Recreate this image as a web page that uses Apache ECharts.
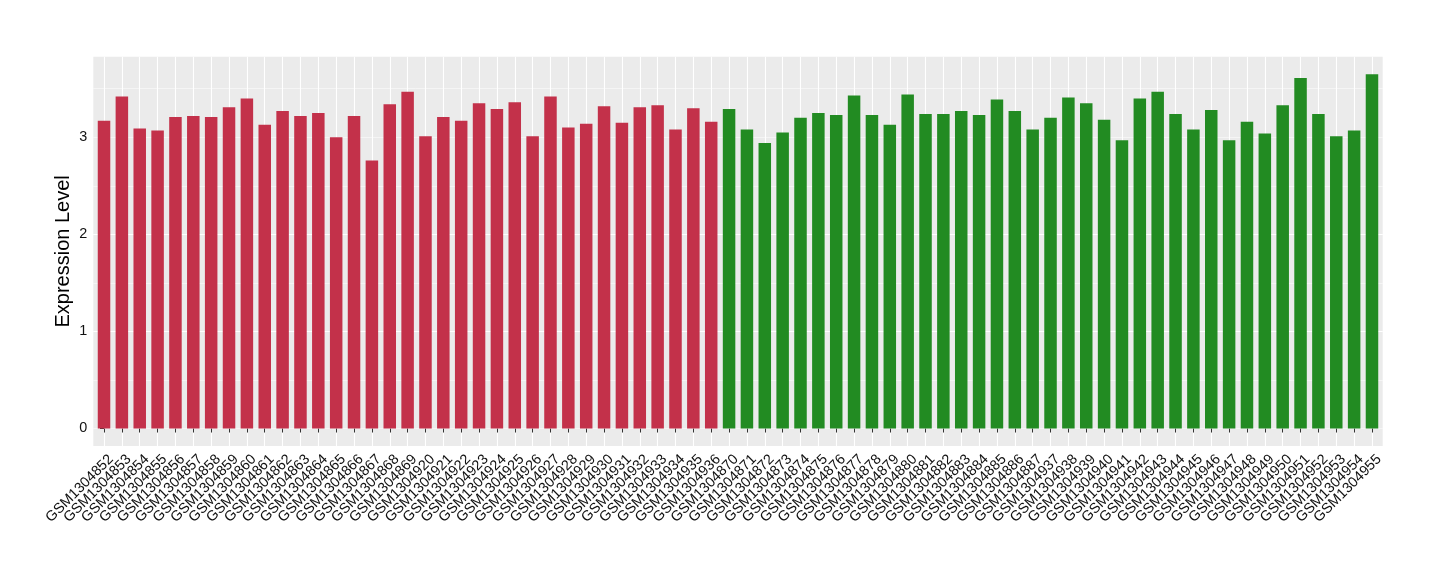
<!DOCTYPE html>
<html>
<head>
<meta charset="utf-8">
<script src="https://cdn.jsdelivr.net/npm/echarts@6/dist/echarts.min.js"></script>
<style>
html,body{margin:0;padding:0;background:#ffffff;}
#chart{width:1440px;height:580px;}
</style>
</head>
<body>
<div id="chart"></div>
<script>
// ---- data ----
const categoriesA = [
  'GSM1304852','GSM1304853','GSM1304854','GSM1304855','GSM1304856','GSM1304857',
  'GSM1304858','GSM1304859','GSM1304860','GSM1304861','GSM1304862','GSM1304863',
  'GSM1304864','GSM1304865','GSM1304866','GSM1304867','GSM1304868','GSM1304869',
  'GSM1304920','GSM1304921','GSM1304922','GSM1304923','GSM1304924','GSM1304925',
  'GSM1304926','GSM1304927','GSM1304928','GSM1304929','GSM1304930','GSM1304931',
  'GSM1304932','GSM1304933','GSM1304934','GSM1304935','GSM1304936'
];
const valuesA = [
  3.17, 3.42, 3.09, 3.07, 3.21, 3.22,
  3.21, 3.31, 3.40, 3.13, 3.27, 3.22,
  3.25, 3.00, 3.22, 2.76, 3.34, 3.47,
  3.01, 3.21, 3.17, 3.35, 3.29, 3.36,
  3.01, 3.42, 3.10, 3.14, 3.32, 3.15,
  3.31, 3.33, 3.08, 3.30, 3.16
];
const categoriesB = [
  'GSM1304870','GSM1304871','GSM1304872','GSM1304873','GSM1304874','GSM1304875',
  'GSM1304876','GSM1304877','GSM1304878','GSM1304879','GSM1304880','GSM1304881',
  'GSM1304882','GSM1304883','GSM1304884','GSM1304885','GSM1304886','GSM1304887',
  'GSM1304937','GSM1304938','GSM1304939','GSM1304940','GSM1304941','GSM1304942',
  'GSM1304943','GSM1304944','GSM1304945','GSM1304946','GSM1304947','GSM1304948',
  'GSM1304949','GSM1304950','GSM1304951','GSM1304952','GSM1304953','GSM1304954',
  'GSM1304955'
];
const valuesB = [
  3.29, 3.08, 2.94, 3.05, 3.20, 3.25,
  3.23, 3.43, 3.23, 3.13, 3.44, 3.24,
  3.24, 3.27, 3.23, 3.39, 3.27, 3.08,
  3.20, 3.41, 3.35, 3.18, 2.97, 3.40,
  3.47, 3.24, 3.08, 3.28, 2.97, 3.16,
  3.04, 3.33, 3.61, 3.24, 3.01, 3.07,
  3.65
];
const yTickLabels = [0, 1, 2, 3];
const yTitle = 'Expression Level';

// ---- styling / layout ----
const colorA = '#C3314A';
const colorB = '#228B22';
const FONT = '"Liberation Sans", Arial, Helvetica, sans-serif';
const yMin = -0.18, yMax = 3.83;

const categories = categoriesA.concat(categoriesB);
const n = categories.length;
const barData = valuesA.map(v => ({ value: v, itemStyle: { color: colorA } }))
  .concat(valuesB.map(v => ({ value: v, itemStyle: { color: colorB } })));

const panel = { left: 93.3, right: 1382.7, top: 56.7, bottom: 446 };
const pw = panel.right - panel.left;
const ph = panel.bottom - panel.top;
const unit = pw / (n + 0.2);

const chart = echarts.init(document.getElementById('chart'), null, { renderer: 'canvas' });
chart.setOption({
  animation: false,
  backgroundColor: '#ffffff',
  textStyle: { fontFamily: FONT },
  grid: [
    { left: panel.left, top: panel.top, width: pw, height: ph, show: true,
      backgroundColor: '#EBEBEB', borderWidth: 0 },
    { left: panel.left + 0.1 * unit, top: panel.top, width: n * unit, height: ph, show: false }
  ],
  xAxis: [
    { type: 'value', gridIndex: 0, min: -0.6, max: n - 1 + 0.6, splitNumber: n,
      axisLine: { show: false }, axisTick: { show: false }, axisLabel: { show: false },
      splitLine: { show: true, showMinLine: false, showMaxLine: false,
        lineStyle: { color: '#ffffff', width: 1.1 } } },
    { type: 'category', gridIndex: 1, data: categories, boundaryGap: true,
      axisLine: { show: false },
      axisTick: { show: true, alignWithLabel: true, length: 4,
        lineStyle: { color: '#333333', width: 1 } },
      axisLabel: { show: true, interval: 0, rotate: 45, align: 'right', verticalAlign: 'top',
        margin: 4, fontSize: 14.4, lineHeight: 20, color: '#111111', fontFamily: FONT },
      splitLine: { show: false } }
  ],
  yAxis: [
    { type: 'value', gridIndex: 0, min: yMin, max: yMax, splitNumber: 4,
      axisLine: { show: false },
      axisTick: { show: true, length: 4, customValues: yTickLabels,
        lineStyle: { color: '#333333', width: 1 } },
      axisLabel: { show: true, customValues: yTickLabels, margin: 6, fontSize: 14.4,
        color: '#111111', fontFamily: FONT, formatter: v => String(v) },
      splitLine: { show: true, showMinLine: false, showMaxLine: false,
        lineStyle: { color: '#ffffff', width: 1.1 } },
      name: yTitle, nameLocation: 'middle', nameGap: 20, nameMoveOverlap: false,
      nameTextStyle: { fontSize: 20, color: '#000000', fontFamily: FONT } },
    { type: 'value', gridIndex: 0, min: yMin, max: yMax, splitNumber: 8,
      axisLine: { show: false }, axisTick: { show: false }, axisLabel: { show: false },
      splitLine: { show: true, showMinLine: false, showMaxLine: false,
        lineStyle: { color: '#ffffff', width: 0.5 } } },
    { type: 'value', gridIndex: 1, min: yMin, max: yMax, show: false,
      splitLine: { show: false } }
  ],
  series: [
    { type: 'bar', xAxisIndex: 1, yAxisIndex: 2, data: barData, barWidth: '70%' }
  ]
});
</script>
</body>
</html>
